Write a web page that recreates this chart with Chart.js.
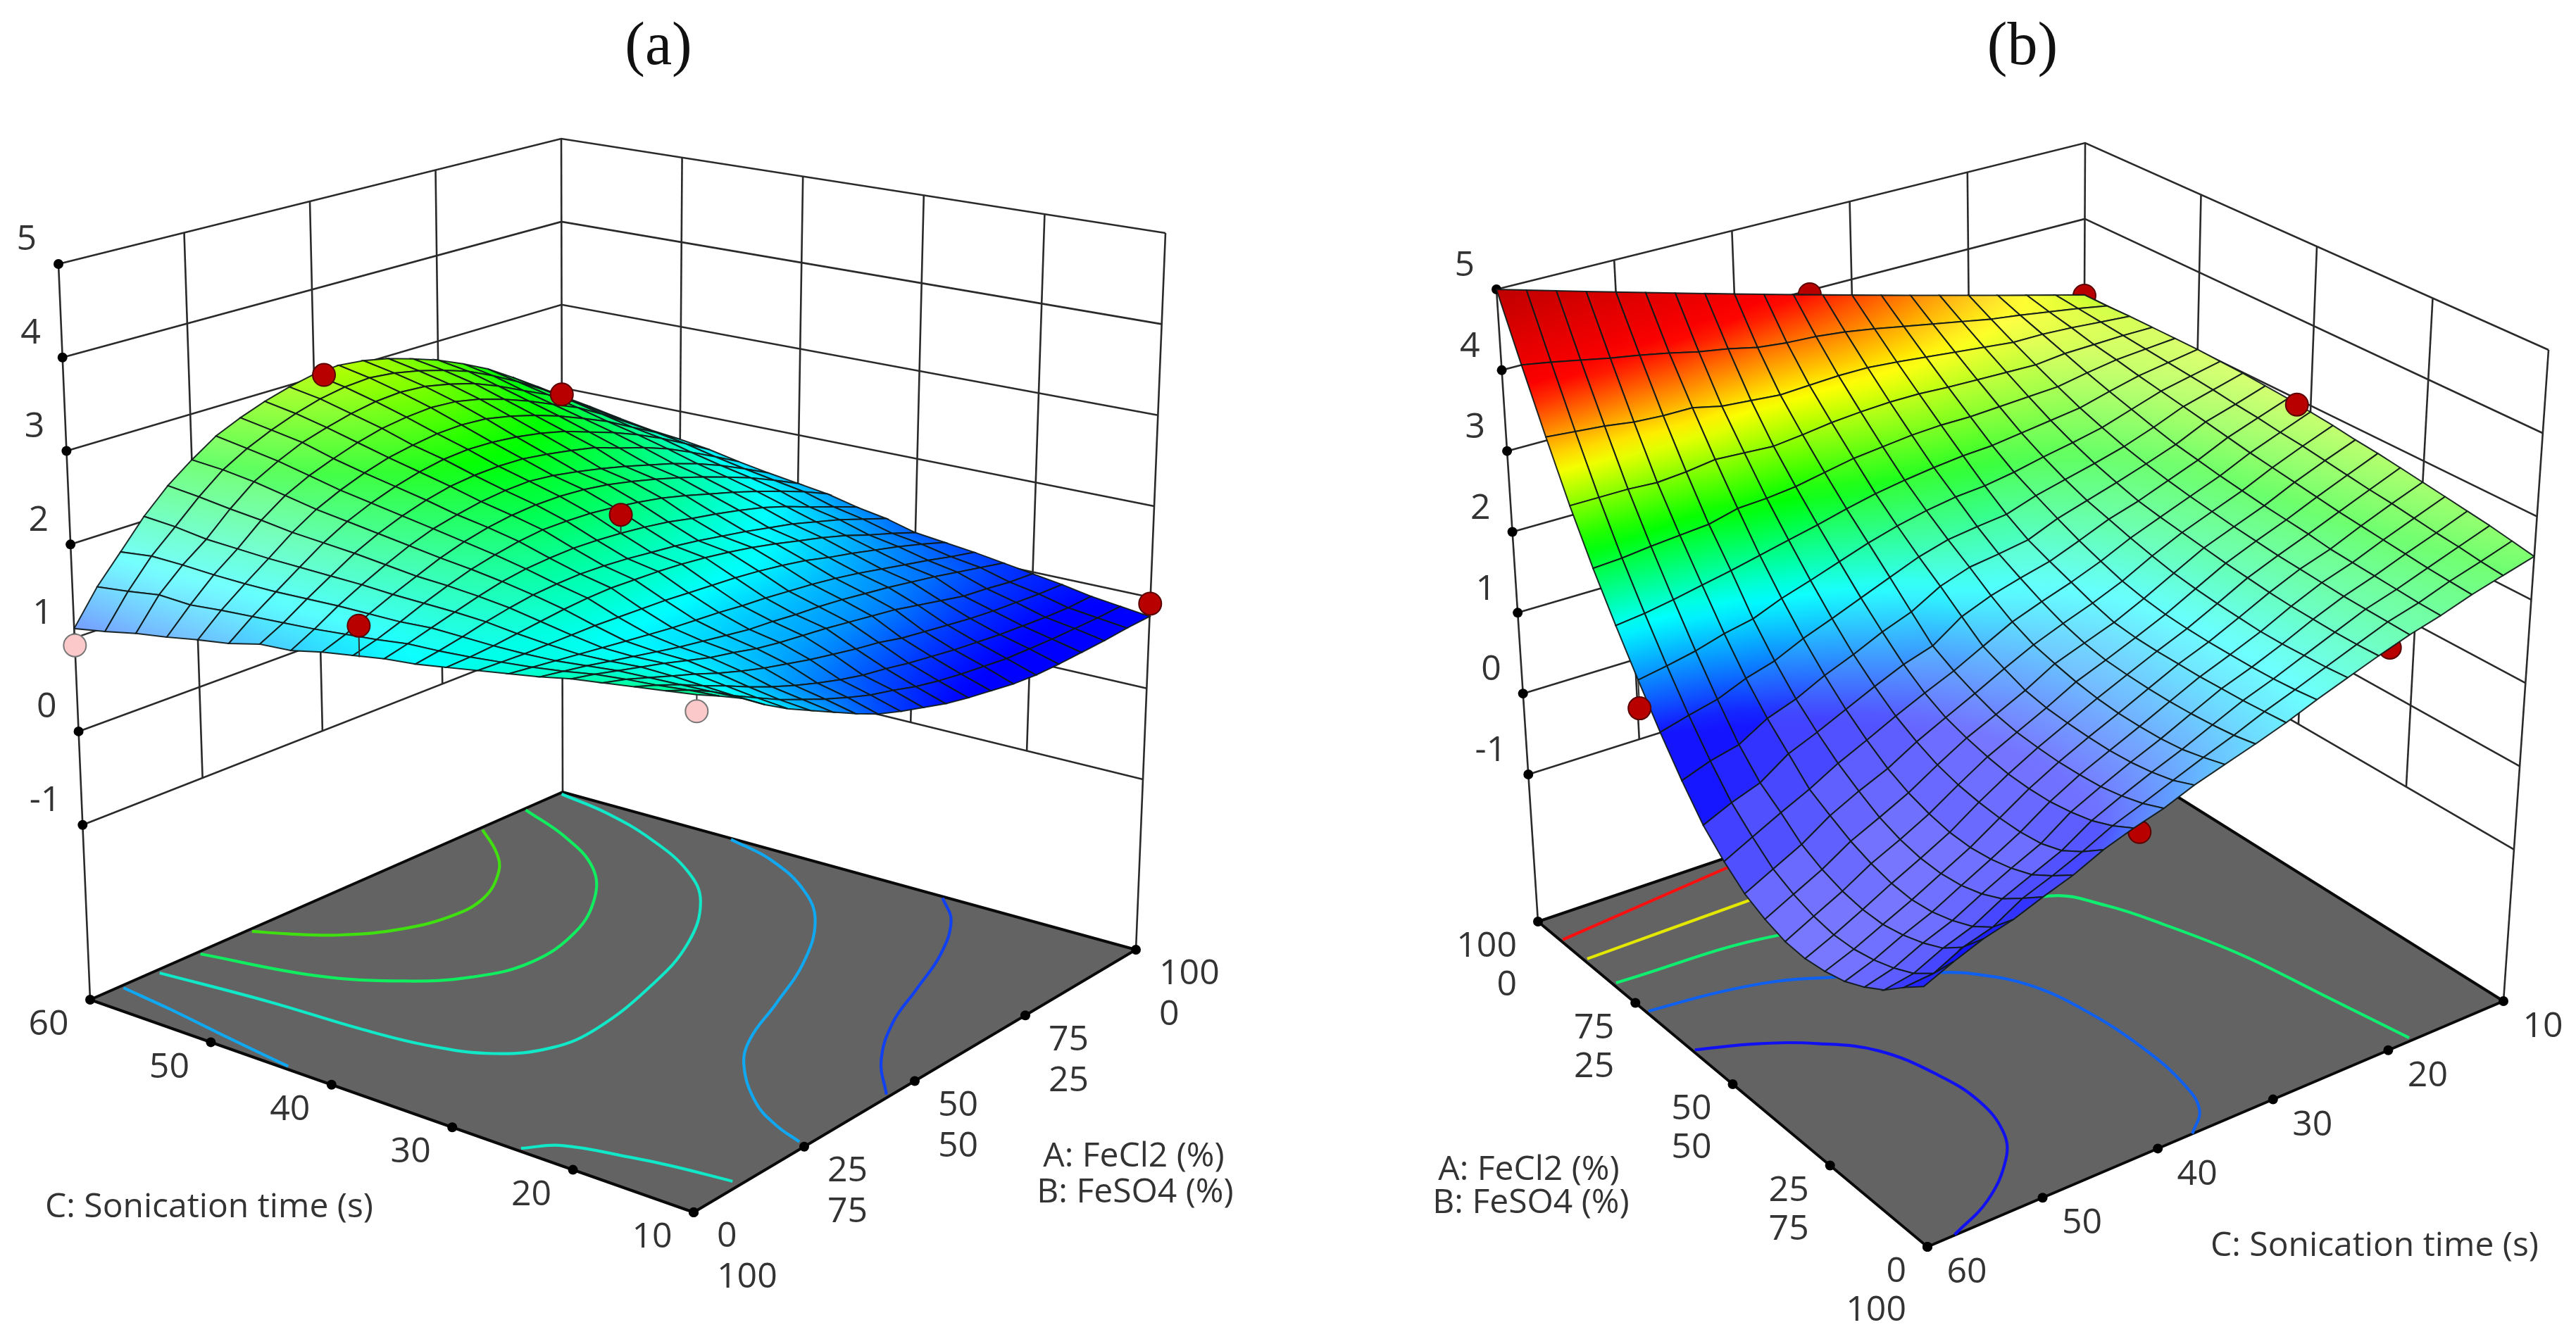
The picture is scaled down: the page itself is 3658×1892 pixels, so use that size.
<!DOCTYPE html>
<html><head><meta charset="utf-8">
<style>html,body{margin:0;padding:0;background:#fff}canvas{position:absolute;top:0}</style>
<script src="https://cdn.jsdelivr.net/npm/chart.js@4"></script></head>
<body><canvas id="pa" style="left:0"></canvas><canvas id="pb" style="left:1829px"></canvas>
<script>
// ---------- data ----------
const sonicationTimes=[10,12.5,15,17.5,20,22.5,25,27.5,30,32.5,35,37.5,40,42.5,45,47.5,50,52.5,55,57.5,60];
const fecl2Levels=[0,5,10,15,20,25,30,35,40,45,50,55,60,65,70,75,80,85,90,95,100];
const zTicks=[-1,0,1,2,3,4,5];
const timeTicks=[10,20,30,40,50,60];
const fecl2Ticks=[0,25,50,75,100];
const feso4Ticks=[100,75,50,25,0];
// panel (a): one row per sonication time, one column per FeCl2 level
const surfaceA=[
[2.11,2.00,1.88,1.72,1.58,1.46,1.34,1.22,1.11,1.03,.96,.89,.84,.80,.76,.74,.74,.75,.76,.78,.79],
[2.07,1.98,1.87,1.73,1.61,1.49,1.39,1.29,1.20,1.12,1.06,.99,.94,.90,.87,.84,.83,.82,.82,.82,.83],
[2.03,1.95,1.86,1.75,1.65,1.54,1.44,1.35,1.27,1.20,1.14,1.10,1.05,1.01,.97,.94,.91,.89,.87,.86,.87],
[1.99,1.93,1.85,1.77,1.69,1.60,1.52,1.45,1.39,1.33,1.28,1.23,1.19,1.13,1.09,1.05,1.01,.98,.96,.94,.93],
[1.95,1.90,1.84,1.78,1.72,1.65,1.58,1.53,1.47,1.43,1.40,1.37,1.33,1.29,1.25,1.19,1.13,1.07,1.04,1.00,.98],
[1.89,1.85,1.81,1.76,1.71,1.66,1.61,1.57,1.53,1.49,1.47,1.44,1.42,1.39,1.35,1.31,1.26,1.21,1.15,1.09,1.03],
[1.84,1.81,1.78,1.75,1.72,1.69,1.66,1.63,1.61,1.59,1.56,1.54,1.51,1.48,1.44,1.39,1.33,1.27,1.21,1.14,1.08],
[1.79,1.78,1.77,1.77,1.77,1.77,1.76,1.75,1.74,1.72,1.70,1.68,1.65,1.61,1.56,1.49,1.43,1.36,1.29,1.21,1.12],
[1.74,1.75,1.77,1.80,1.83,1.86,1.88,1.89,1.88,1.87,1.85,1.82,1.78,1.73,1.67,1.60,1.53,1.45,1.35,1.26,1.16],
[1.69,1.73,1.78,1.84,1.89,1.93,1.95,1.96,1.95,1.93,1.90,1.87,1.83,1.78,1.73,1.67,1.61,1.53,1.45,1.35,1.25],
[1.66,1.72,1.79,1.86,1.93,1.99,2.03,2.05,2.06,2.05,2.03,2.00,1.96,1.90,1.85,1.79,1.72,1.63,1.52,1.42,1.31],
[1.61,1.68,1.77,1.87,1.96,2.04,2.10,2.15,2.18,2.18,2.17,2.14,2.10,2.05,1.98,1.90,1.82,1.73,1.63,1.52,1.39],
[1.56,1.65,1.77,1.88,1.98,2.08,2.16,2.22,2.26,2.28,2.28,2.26,2.22,2.16,2.09,2.01,1.92,1.82,1.71,1.58,1.44],
[1.49,1.62,1.77,1.90,2.02,2.13,2.22,2.28,2.33,2.36,2.37,2.34,2.29,2.23,2.16,2.08,2.00,1.90,1.78,1.64,1.49],
[1.47,1.60,1.76,1.91,2.06,2.18,2.28,2.36,2.42,2.45,2.46,2.45,2.41,2.36,2.30,2.20,2.11,2.00,1.86,1.71,1.55],
[1.39,1.58,1.75,1.92,2.09,2.23,2.34,2.43,2.50,2.55,2.57,2.56,2.53,2.48,2.41,2.31,2.21,2.09,1.95,1.79,1.62],
[1.34,1.56,1.75,1.93,2.12,2.28,2.40,2.50,2.58,2.63,2.67,2.68,2.66,2.60,2.52,2.42,2.30,2.17,2.01,1.85,1.67],
[1.28,1.53,1.76,1.95,2.17,2.35,2.48,2.58,2.67,2.74,2.78,2.80,2.78,2.72,2.63,2.52,2.39,2.26,2.09,1.90,1.71],
[1.23,1.55,1.78,1.97,2.21,2.42,2.56,2.68,2.76,2.83,2.88,2.90,2.88,2.82,2.74,2.62,2.48,2.34,2.17,1.97,1.77],
[1.16,1.50,1.79,2.02,2.26,2.47,2.62,2.74,2.84,2.92,2.97,2.99,2.96,2.90,2.82,2.72,2.58,2.42,2.24,2.02,1.84],
[1.10,1.46,1.75,2.05,2.30,2.50,2.68,2.80,2.90,2.98,3.04,3.06,3.03,2.97,2.88,2.78,2.65,2.50,2.31,2.11,1.90]];
// panel (b)
const surfaceB=[
[2.52,2.57,2.62,2.66,2.70,2.74,2.78,2.82,2.85,2.89,2.92,2.95,2.97,2.99,3.00,3.01,3.01,3.01,3.01,3.00,3.00],
[2.42,2.45,2.49,2.52,2.56,2.60,2.63,2.67,2.71,2.75,2.78,2.82,2.85,2.89,2.92,2.95,2.98,3.01,3.04,3.07,3.10],
[2.32,2.34,2.36,2.39,2.42,2.45,2.48,2.52,2.56,2.60,2.64,2.69,2.74,2.79,2.84,2.89,2.95,3.00,3.07,3.13,3.20],
[2.20,2.21,2.23,2.25,2.27,2.29,2.33,2.36,2.39,2.43,2.47,2.52,2.57,2.64,2.72,2.80,2.89,2.99,3.09,3.19,3.30],
[2.10,2.11,2.12,2.13,2.15,2.17,2.19,2.22,2.25,2.29,2.33,2.38,2.44,2.51,2.60,2.70,2.82,2.95,3.09,3.24,3.40],
[1.98,1.97,1.97,1.98,1.99,2.01,2.04,2.07,2.11,2.15,2.19,2.24,2.32,2.41,2.52,2.65,2.80,2.96,3.13,3.31,3.50],
[1.85,1.83,1.82,1.81,1.81,1.83,1.85,1.88,1.92,1.98,2.05,2.13,2.21,2.32,2.45,2.60,2.78,2.97,3.17,3.38,3.60],
[1.72,1.69,1.67,1.66,1.66,1.66,1.67,1.69,1.73,1.79,1.88,1.98,2.10,2.23,2.37,2.55,2.76,2.98,3.21,3.45,3.70],
[1.58,1.56,1.54,1.53,1.52,1.52,1.52,1.53,1.56,1.64,1.74,1.84,1.95,2.11,2.31,2.53,2.76,3.00,3.25,3.52,3.80],
[1.46,1.41,1.38,1.36,1.35,1.35,1.36,1.38,1.43,1.51,1.62,1.75,1.89,2.07,2.28,2.49,2.74,3.00,3.28,3.58,3.90],
[1.35,1.28,1.22,1.19,1.18,1.18,1.20,1.24,1.30,1.37,1.49,1.65,1.84,2.02,2.22,2.44,2.70,2.98,3.28,3.62,4.00],
[1.24,1.14,1.08,1.04,1.02,1.02,1.03,1.05,1.10,1.20,1.31,1.51,1.72,1.92,2.14,2.38,2.66,2.95,3.26,3.64,4.10],
[1.10,1.00,.93,.88,.86,.85,.86,.88,.93,1.02,1.13,1.27,1.52,1.78,2.04,2.30,2.59,2.90,3.24,3.68,4.20],
[1.00,.87,.77,.71,.67,.66,.67,.71,.77,.85,.98,1.16,1.39,1.64,1.92,2.21,2.52,2.86,3.27,3.76,4.30],
[.88,.70,.55,.47,.44,.44,.46,.50,.57,.68,.82,1.01,1.23,1.50,1.80,2.13,2.48,2.88,3.30,3.82,4.40],
[.72,.55,.40,.31,.25,.22,.23,.28,.36,.48,.65,.85,1.09,1.37,1.69,2.05,2.46,2.90,3.38,3.90,4.50],
[.60,.42,.25,.14,.07,.04,.05,.10,.19,.33,.49,.69,.92,1.21,1.55,1.97,2.37,2.85,3.38,3.97,4.60],
[.47,.22,.06,-.04,-.11,-.14,-.12,-.06,.03,.16,.30,.55,.80,1.11,1.48,1.90,2.34,2.82,3.40,4.03,4.70],
[.38,.12,-.06,-.17,-.25,-.30,-.30,-.26,-.18,-.06,.14,.32,.60,.97,1.38,1.83,2.31,2.84,3.45,4.10,4.80],
[.25,-.05,-.22,-.33,-.41,-.46,-.47,-.43,-.35,-.23,-.03,.20,.52,.89,1.31,1.77,2.27,2.84,3.48,4.17,4.90],
[.10,-.08,-.28,-.42,-.53,-.59,-.62,-.60,-.52,-.40,-.20,.05,.40,.80,1.25,1.73,2.25,2.84,3.51,4.23,5.00]];
// floor contours: [sonication time, FeCl2] pairs
const contoursA=[
{color:'#10a8f0',pts:[[59.7,6.3],[55.2,4.9],[50,2.9],[43.9,.8]]},
{color:'#10e8c8',pts:[[59.8,99.3],[55.1,97.4],[49.6,93.4],[43.9,87.2],[39.9,79.9],[36.1,67.5],[33.7,53.5],[32.2,37.6],[32.6,28.9],[35,22.3],[39.2,18.6],[44.2,17],[51.3,16],[59.6,13.7]]},
{color:'#10e8c8',pts:[[24.6,.8],[22.8,5],[18.3,7.9],[15.1,9.4],[10.7,10.7]]},
{color:'#10ee60',pts:[[59.8,91.7],[54.4,87],[49.5,80.6],[46,72.3],[43.3,61.3],[42.4,49.4],[43.9,40.4],[46.9,33.5],[51.9,27.1],[59.7,22.6]]},
{color:'#40e010',pts:[[59.7,82.3],[56.3,76.9],[54,71.7],[51.8,63],[51.5,54.8],[52.8,46.5],[55.1,40.1],[57.7,36],[59.7,33.5]]},
{color:'#10a8f0',pts:[[45.2,99.7],[40.6,97],[35.4,91.1],[31.5,83.7],[27.8,71.7],[25.1,58.6],[23.1,47.8],[20.9,40.5],[16.7,32],[13.5,28],[10.7,25.8]]},
{color:'#1040f0',pts:[[26.7,99.6],[23.8,94.1],[20.9,84.3],[18.8,73.6],[16.8,63],[13.8,52.5],[10.3,44.4]]}];
const contoursB=[
{color:'#f81010',pts:[[59.8,94.2],[43.9,97.6],[40,98.4]]},
{color:'#e4e800',pts:[[59.7,88.2],[45.2,88.6],[40,88.8]]},
{color:'#10ee70',pts:[[59.7,80.8],[46,78.6],[26.2,65.1],[23.7,58],[22,48.6],[20.2,34.9],[19.1,19.3],[17.9,.8]]},
{color:'#1060f0',pts:[[59.8,72.2],[54.1,70.8],[49.5,68.5],[46,65.1],[39,57.1],[37.2,54.2],[34.7,46.7],[33.5,35.9],[33.2,22.5],[33.7,11.6],[34.8,4.5],[37,0]]},
{color:'#1010f0',pts:[[59.8,60.3],[55.5,56.6],[51.8,51.7],[48.7,45.1],[47,34.7],[46.6,25.6],[47.5,17.1],[49.3,11.3],[53.3,4.3],[57.6,.1]]}];
// design points: [time, FeCl2, response]
const redPointsA=[[60,52,3.0],[60,100,1.92],[35,50,2.23],[37,0,1.93],[10,100,.93]];
const pinkPointsA=[[60,0,.92],[10,0,1.95]];
const redPointsBFront=[[60,70,.91],[10,53,2.93]];
const redPointsBBehind=[[33.6,100,3.95],[10,100,2.99],[21.6,0,2.03],[42,0,.93]];
// ---------- view settings ----------
const viewA={
 floor:[[985,1722],[128,1420],[799,1125],[1613,1349]],top:[[992,560],[83,375],[797,197],[1655,331]],zFloor:-2.87,
 zStops:[.85,1.7,2.5,3.3,4.1],colors:[[0,0,255],[0,255,255],[0,255,0],[255,255,0],[255,0,0]],
 light:[-.21,-.83,.52],lightC:.58,lightK:1.7,lightMax:.46,nearRank:(i,j)=>i+j};
const viewB={
 floor:[[3555,1422],[2737,1771],[2184,1309],[2957,1047]],top:[[3619,497],[2723,781],[2125,411],[2961,203]],zFloor:-2.82,
 zStops:[.8,1.7,2.45,3.2,4,5],colors:[[20,20,255],[0,255,255],[0,255,0],[255,255,0],[255,0,0],[190,0,0]],
 light:[.25,-.05,.97],lightC:.8,lightK:2.2,lightMax:.45,nearRank:(i,j)=>19-i+j};
function blend(c,p,q){return[0,1].map(k=>(1-p)*(1-q)*c[0][k]+p*(1-q)*c[1][k]+p*q*c[2][k]+(1-p)*q*c[3][k]);}
function projector(v){return(C,A,z)=>{const p=(C-10)/50,q=A/100,f=blend(v.floor,p,q),t=blend(v.top,p,q),s=(z-v.zFloor)/(5-v.zFloor);return{x:f[0]+(t[0]-f[0])*s,y:f[1]+(t[1]-f[1])*s};};}
function colorAt(v,z,w){const S=v.zStops,K=v.colors;let c;if(z<=S[0])c=K[0];else if(z>=S[S.length-1])c=K[K.length-1];else{let i=0;while(z>S[i+1])i++;const f=(z-S[i])/(S[i+1]-S[i]);c=K[i].map((n,m)=>n+(K[i+1][m]-n)*f);}
 return'rgb('+c.map(n=>Math.round(n+(255-n)*w)).join(',')+')';}
const line=(pts,color,width,order,extra)=>Object.assign({type:'scatter',showLine:true,data:pts,borderColor:color,borderWidth:width,pointRadius:0,fill:false,tension:0,order,clip:false},extra||{});
function quadFill(ctx){
 const d=ctx.dataset,v=d.view,X=ctx.chart.scales.x,Y=ctx.chart.scales.y;
 const P=d.data.slice(0,4).map(p=>[X.getPixelForValue(p.x),Y.getPixelForValue(p.y)]),Z=d.zv;
 const du=[(P[1][0]-P[0][0]+P[2][0]-P[3][0])/2,(P[1][1]-P[0][1]+P[2][1]-P[3][1])/2],dv=[(P[3][0]-P[0][0]+P[2][0]-P[1][0])/2,(P[3][1]-P[0][1]+P[2][1]-P[1][1])/2];
 const zu=(Z[1]-Z[0]+Z[2]-Z[3])/2,zv=(Z[3]-Z[0]+Z[2]-Z[1])/2,det=du[0]*dv[1]-du[1]*dv[0];
 const zc=(Z[0]+Z[1]+Z[2]+Z[3])/4,cx=(P[0][0]+P[1][0]+P[2][0]+P[3][0])/4,cy=(P[0][1]+P[1][1]+P[2][1]+P[3][1])/4;
 const gx=(zu*dv[1]-zv*du[1])/det,gy=(du[0]*zv-dv[0]*zu)/det,g2=gx*gx+gy*gy;
 const span=Math.max(...Z)-zc,low=zc-Math.max(span,zc-Math.min(...Z)),high=2*zc-low;
 if(!(g2>1e-9)||Math.abs(det)<1)return colorAt(v,zc,d.white);
 const k=(high-zc)/g2,gr=ctx.chart.ctx.createLinearGradient(cx-gx*k,cy-gy*k,cx+gx*k,cy+gy*k);
 for(let s=0;s<=4;s++)gr.addColorStop(s/4,colorAt(v,low+(high-low)*s/4,d.white));
 return gr;}
function buildPanel(v,surface,contours,front,behind,pink,wallsC,wallsA){
 const P=projector(v),ds=[];
 const zLo=v.zFloor;
 const corner=[[10,0],[60,0],[60,100],[10,100]];
 const isA=v===viewA;
 const backC=isA?60:10,sideA=100;
 const ends=isA?[[60,0],[60,100],[10,100]]:[[60,100],[10,100],[10,0]];
 zTicks.forEach(z=>ds.push(line(ends.map(e=>P(e[0],e[1],z)),'#2a2a2a',2.6,100000)));
 ends.forEach(e=>ds.push(line([P(e[0],e[1],5),P(e[0],e[1],zLo)],'#2a2a2a',2.6,100000)));
 wallsC.forEach(C=>ds.push(line([P(C,sideA,5),P(C,sideA,-1)],'#2a2a2a',2.6,100000)));
 wallsA.forEach(A=>ds.push(line([P(backC,A,5),P(backC,A,-1)],'#2a2a2a',2.6,100000)));
 const fl=corner.concat([corner[0]]).map(c=>P(c[0],c[1],zLo));
 ds.push(line(fl,'#0a0a0a',4,90000,{fill:'shape',backgroundColor:'#636363'}));
 contours.forEach(c=>ds.push(line(c.pts.map(p=>P(p[0],p[1],zLo)),c.color,4.2,80000,{tension:.4})));
 const dots=(pts)=>ds.push({type:'scatter',data:pts,showLine:false,pointRadius:7,pointBackgroundColor:'#000',pointBorderWidth:0,order:79000,clip:false});
 const lc=isA?[60,0]:[60,100];
 dots(zTicks.map(z=>P(lc[0],lc[1],z)));
 const aEdgeC=isA?10:60;
 dots(timeTicks.map(C=>P(C,0,zLo)));
 dots(fecl2Ticks.map(A=>P(aEdgeC,A,zLo)));
 const dotSet=(arr,fill,edge,r,order)=>arr.forEach(p=>{
  const i=sonicationTimes.reduce((b,c,n)=>Math.abs(c-p[0])<Math.abs(sonicationTimes[b]-p[0])?n:b,0),j=fecl2Levels.reduce((b,c,n)=>Math.abs(c-p[1])<Math.abs(fecl2Levels[b]-p[1])?n:b,0);
  ds.push(line([P(p[0],p[1],p[2]),P(p[0],p[1],surface[i][j])],'#333',2,order+1));
  ds.push({type:'scatter',data:[P(p[0],p[1],p[2])],showLine:false,pointRadius:r,pointBackgroundColor:fill,pointBorderColor:edge,pointBorderWidth:2,order,clip:false});});
 dotSet(behind,'#b80000','#5a0000',16,70000);
 for(let i=0;i<20;i++)for(let j=0;j<20;j++){
  const idx=[[i,j],[i+1,j],[i+1,j+1],[i,j+1]];
  const zv=idx.map(a=>surface[a[0]][a[1]]);
  const pts=idx.map(a=>P(sonicationTimes[a[0]],fecl2Levels[a[1]],surface[a[0]][a[1]]));
  const dp=((zv[1]-zv[0]+zv[2]-zv[3])/2)*20/7.8,dq=((zv[3]-zv[0]+zv[2]-zv[1])/2)*20/7.8;
  const n=[-dp,-dq,1],nl=Math.hypot(...n),dot=(n[0]*v.light[0]+n[1]*v.light[1]+n[2]*v.light[2])/nl;
  const white=Math.min(v.lightMax,Math.max(0,(dot-v.lightC)*v.lightK));
  ds.push(line(pts.concat([pts[0]]),'rgba(15,25,25,.92)',2,100+v.nearRank(i,j),{fill:'shape',backgroundColor:quadFill,zv,view:v,white}));
 }
 dotSet(front,'#b80000','#5a0000',16,0);
 dotSet(pink,'#fbc9c9','#777',16,0);
 return{ds,P};}
const textPlugin=(items)=>({id:'panelText',afterDraw(chart){const c=chart.ctx,X=chart.scales.x,Y=chart.scales.y;c.save();c.textBaseline='middle';items.forEach(t=>{c.font=t.font;c.fillStyle=t.color;c.textAlign=t.align;c.fillText(t.s,X.getPixelForValue(t.x),Y.getPixelForValue(t.y));});c.restore();}});
const LF="50px 'Open Sans'",AF="48px 'Open Sans'",TF="86px 'Liberation Serif'",LC='#333';
function label(s,x,y,align){return{s,x,y,align:align||'center',font:LF,color:LC};}
function axisName(s,x,y){return{s,x,y,align:'center',font:AF,color:LC};}
function draw(id,xMin,xMax,ds,texts){
 const cv=document.getElementById(id);cv.width=xMax-xMin;cv.height=1892;
 return new Chart(cv,{type:'scatter',data:{datasets:ds},plugins:[textPlugin(texts)],options:{responsive:false,animation:false,events:[],layout:{padding:0,autoPadding:false},
  plugins:{legend:{display:false},tooltip:{enabled:false},title:{display:false}},
  scales:{x:{type:'linear',display:false,min:xMin,max:xMax},y:{type:'linear',display:false,min:0,max:1892,reverse:true}}}});}
{const{ds,P}=buildPanel(viewA,surfaceA,contoursA,redPointsA,[],pinkPointsA,[50,40,30,20],[25,50,75]);
 const t=[{s:'(a)',x:935,y:68,align:'center',font:TF,color:'#111'}];
 zTicks.forEach(z=>{const p=P(60,0,z);t.push(label(String(z),p.x-31,p.y-34,'right'));});
 timeTicks.forEach(C=>{const p=P(C,0,viewA.zFloor);t.push(label(String(C),p.x-59,p.y+36));});
 fecl2Ticks.forEach((A,i)=>{const p=P(10,A,viewA.zFloor);t.push(label(String(A),p.x+33,p.y+35,'left'));t.push(label(String(feso4Ticks[i]),p.x+33,p.y+93,'left'));});
 t.push(axisName('C: Sonication time (s)',297,1715),axisName('A: FeCl2 (%)',1610,1643),axisName('B: FeSO4 (%)',1612,1694));
 draw('pa',0,1829,ds,t);}
{const{ds,P}=buildPanel(viewB,surfaceB,contoursB,redPointsBFront,redPointsBBehind,[],[50,40,30,20],[25,50,75]);
 const t=[{s:'(b)',x:2872,y:68,align:'center',font:TF,color:'#111'}];
 zTicks.forEach(z=>{const p=P(60,100,z);t.push(label(String(z),p.x-31,p.y-33,'right'));});
 timeTicks.forEach(C=>{const p=P(C,0,viewB.zFloor);t.push(label(String(C),p.x+56,p.y+37));});
 fecl2Ticks.forEach((A,i)=>{const p=P(60,A,viewB.zFloor);t.push(label(String(A),p.x-30,p.y+36,'right'));t.push(label(String(feso4Ticks[i]),p.x-30,p.y+91,'right'));});
 t.push(axisName('C: Sonication time (s)',3372,1770),axisName('A: FeCl2 (%)',2171,1662),axisName('B: FeSO4 (%)',2174,1709));
 draw('pb',1829,3658,ds,t);}
</script></body></html>
